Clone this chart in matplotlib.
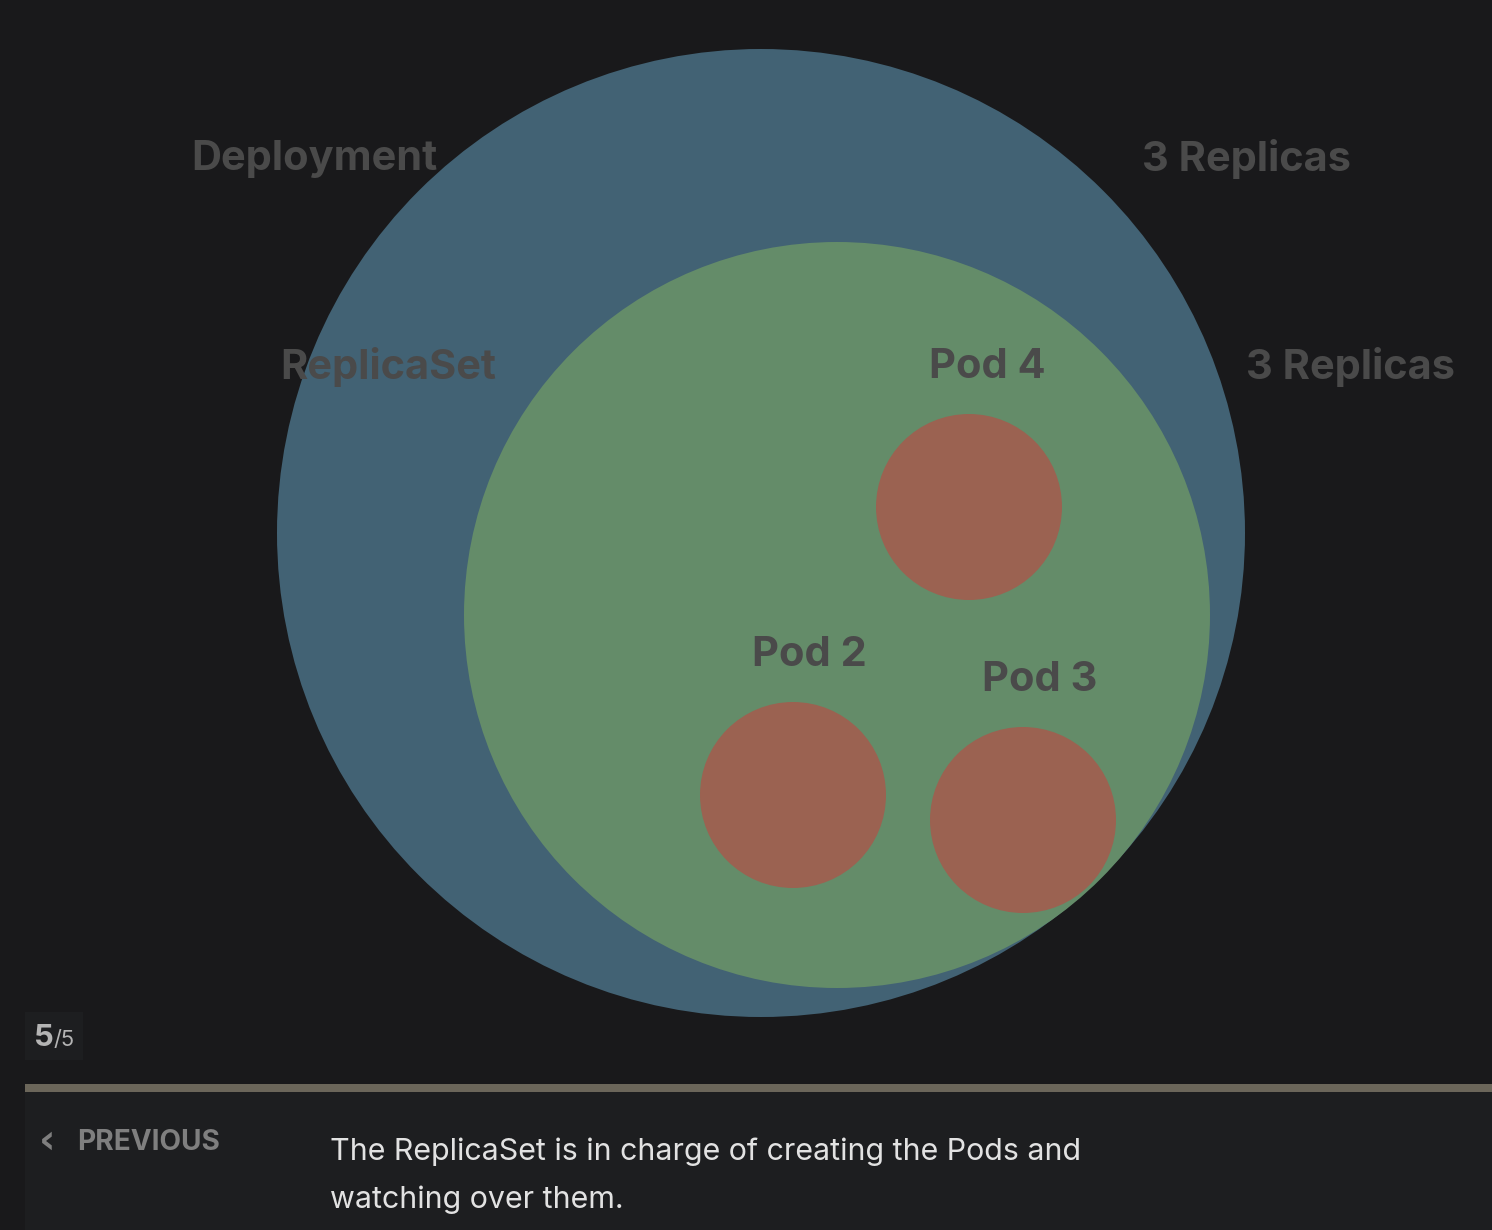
import matplotlib.pyplot as plt
from matplotlib.patches import Circle, Rectangle

W, H = 1492, 1230
dpi = 100

# circle data in page pixels: (name, cx, cy, radius, colour)
names = ['Deployment', 'ReplicaSet', 'Pod 4', 'Pod 2', 'Pod 3']
cx = [761, 837, 969, 793, 1023]
cy = [533, 615, 507, 795, 820]
radius = [484, 373, 93, 93, 93]
colors = ['#426274', '#648c69', '#9b6251', '#9b6251', '#9b6251']

# labels: text, x, y (centre)
label_text = ['Deployment', '3 Replicas', 'ReplicaSet', '3 Replicas', 'Pod 4', 'Pod 2', 'Pod 3']
label_x = [314, 1247, 388, 1351, 987, 809, 1040]
label_y = [159, 159, 367, 367, 367, 655, 680]

caption = ['The ReplicaSet is in charge of creating the Pods and', 'watching over them.']

def px(size):
    return size * 72 / dpi

fig = plt.figure(figsize=(W / dpi, H / dpi), dpi=dpi)
fig.patch.set_facecolor('#19191b')
ax = fig.add_axes([0, 0, 1, 1])
ax.set_xlim(0, W)
ax.set_ylim(H, 0)
ax.set_aspect('equal')
ax.axis('off')

for i in range(len(names)):
    ax.add_patch(Circle((cx[i], cy[i]), radius[i], color=colors[i], lw=0, zorder=2))

for t, x, y in zip(label_text, label_x, label_y):
    ax.text(x, y, t, ha='center', va='center', fontsize=px(41.5), fontweight='bold',
            family='Inter', color='#4a4a4a', zorder=5)

# bottom panel
ax.add_patch(Rectangle((25, 1092), W - 25, H - 1092, color='#1d1e20', lw=0, zorder=1))
ax.add_patch(Rectangle((25, 1084), W - 25, 8, color='#6b665a', lw=0, zorder=1))
ax.add_patch(Rectangle((25, 1012), 58, 48, color='#1d1e20', lw=0, zorder=1))

ax.text(34, 1038, '5', ha='left', va='center', fontsize=px(31), fontweight='bold',
        family='Inter', color='#b4b4b4', zorder=5)
ax.text(53, 1040, '/5', ha='left', va='center', fontsize=px(22),
        family='Inter', color='#b4b4b4', zorder=5)

ax.text(39, 1142, '‹', ha='left', va='center', fontsize=px(40), fontweight='bold',
        family='DejaVu Sans', color='#7f7f7f', zorder=5)
ax.text(77, 1143, 'PREVIOUS', ha='left', va='center', fontsize=px(28), fontweight='bold',
        family='Inter', color='#7f7f7f', zorder=5)

for i, line in enumerate(caption):
    ax.text(330, 1152 + i * 48, line, ha='left', va='center', fontsize=px(30.4),
            family='Inter', color='#e2e2e2', zorder=5)

plt.savefig('out.png', dpi=dpi, facecolor=fig.get_facecolor())
